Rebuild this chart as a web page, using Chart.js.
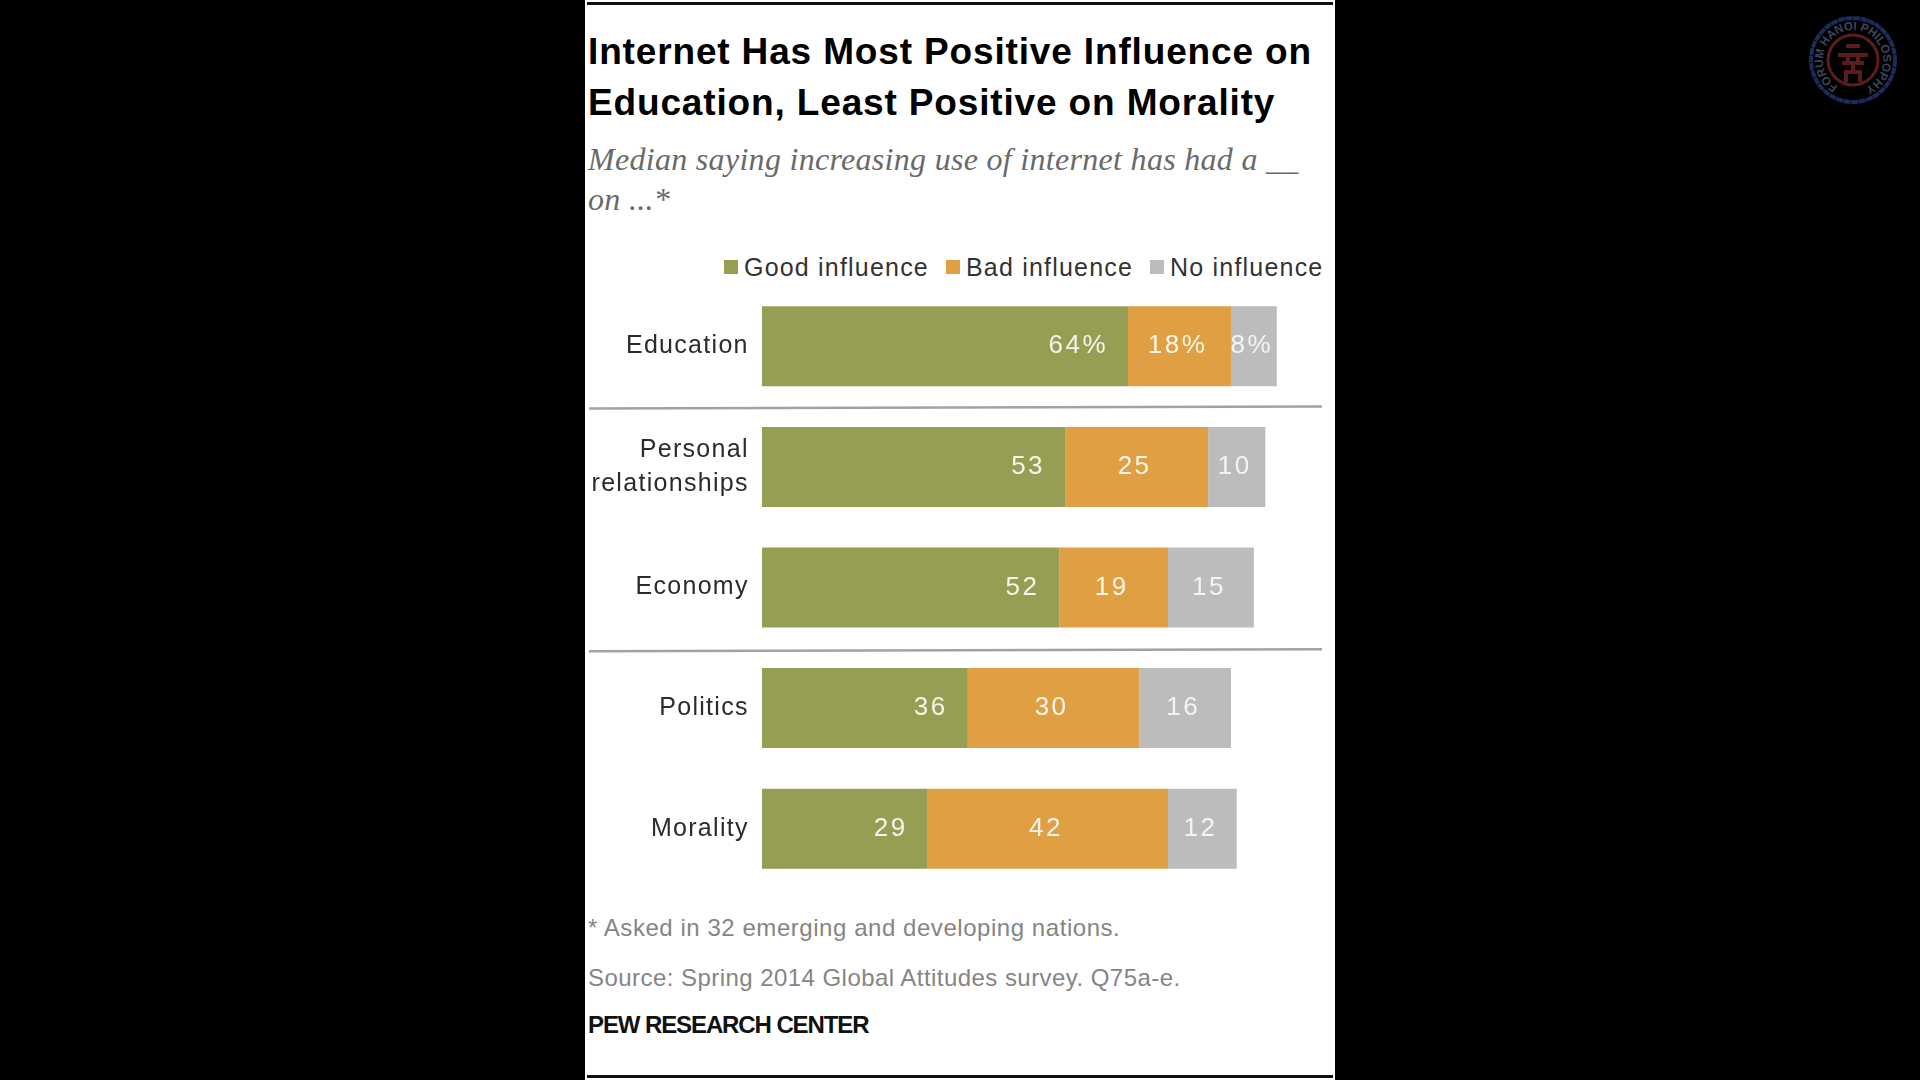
<!DOCTYPE html>
<html>
<head>
<meta charset="utf-8">
<title>Internet influence</title>
<script src="https://cdn.jsdelivr.net/npm/chart.js@4"></script>
<style>
    html, body { margin: 0; height: 100%; background: #000; overflow: hidden; }
    .panel { position: absolute; left: 585px; top: 0; width: 750px; height: 1080px; background: #fff; }
    .rule { position: absolute; left: 2px; width: 746px; height: 3px; background: #111; }
    .txt { position: absolute; white-space: nowrap; font-family: "Liberation Sans", sans-serif; }
    .title { left: 3px; top: 26px; font-size: 37px; line-height: 51px; font-weight: 700; color: #000; letter-spacing: 0.85px; }
    .subtitle { left: 3px; top: 139px; font-family: "Liberation Serif", serif; font-style: italic; font-size: 32px; line-height: 40px; color: #6a6a6a; letter-spacing: 0.3px; }
    .note { left: 3px; font-size: 24px; color: #858585; letter-spacing: 0.45px; }
    .org { left: 3px; top: 1011px; font-size: 24px; font-weight: 700; color: #111; letter-spacing: -1.1px; }
    #legend { position: absolute; left: 139px; top: 250px; height: 34px; display: flex; align-items: center; font-size: 25px; letter-spacing: 1.2px; color: #333; }
    #legend span.box { display: inline-block; width: 14px; height: 14px; margin-right: 6px; }
    #legend span.item { margin-right: 17px; }
    .chart-wrap { position: absolute; left: 1px; top: 286px; width: 748px; height: 603px; }
    .logo { position: absolute; left: 1803px; top: 10px; }
</style>
</head>
<body>
<div class="panel">
    <div class="rule" style="top: 2px;"></div>
    <div class="txt title">Internet Has Most Positive Influence on<br>Education, Least Positive on Morality</div>
    <div class="txt subtitle">Median saying increasing use of internet has had a __<br>on ...*</div>
    <div id="legend" class="txt"></div>
    <div class="chart-wrap"><canvas id="influenceChart"></canvas></div>
    <div class="txt note" style="top: 914px; letter-spacing: 0.55px;">* Asked in 32 emerging and developing nations.</div>
    <div class="txt note" style="top: 964px;">Source: Spring 2014 Global Attitudes survey. Q75a-e.</div>
    <div class="txt org">PEW RESEARCH CENTER</div>
    <div class="rule" style="top: 1075px;"></div>
</div>

<svg class="logo" width="100" height="100" viewBox="0 0 100 100">
    <defs><path id="ringText" d="M 50 50 m -30 0 a 30 30 0 1 1 60 0 a 30 30 0 1 1 -60 0"></path></defs>
    <circle cx="50" cy="50" r="42" fill="none" stroke="#1c2b57" stroke-width="4" stroke-dasharray="7 0.6"></circle>
    <circle cx="50" cy="50" r="25" fill="none" stroke="#5c1c1c" stroke-width="3"></circle>
    <text transform="rotate(-60 50 50)" font-family="Liberation Sans" font-weight="700" font-size="12" fill="#3c445a" textLength="160" lengthAdjust="spacingAndGlyphs">
        <textPath href="#ringText">FORUM HANOI PHILOSOPHY</textPath>
    </text>
    <path d="M43 36 H57 M35 45 H65 M39 53 H61 M45 45 V53 M55 45 V53 M43 72 V62 H57 V72 M50 53 V62" fill="none" stroke="#5c1c1c" stroke-width="4"></path>
</svg>

<script>
const categories = ['Education', ['Personal', 'relationships'], 'Economy', 'Politics', 'Morality'];
const goodValues = [64, 53, 52, 36, 29];
const badValues = [18, 25, 19, 30, 42];
const noneValues = [8, 10, 15, 16, 12];
const seriesNames = ['Good influence', 'Bad influence', 'No influence'];
const seriesColors = ['#969e54', '#df9f42', '#bcbcbc'];
const labelColors = ['#f4f5e8', '#fdf6ea', '#f4f4f4'];
const dividerAfter = [0, 2];

const fontFamily = '"Liberation Sans", sans-serif';

// canvas has no letter-spacing option, and a resize wipes the context state
const spacingPlugin = {
    id: 'spacing',
    beforeLayout(chart) { chart.ctx.letterSpacing = '1.3px'; },
    beforeDraw(chart) { chart.ctx.letterSpacing = '1.3px'; }
};

const valueLabelPlugin = {
    id: 'valueLabels',
    afterDatasetsDraw(chart) {
        const ctx = chart.ctx;
        ctx.save();
        ctx.font = '26px ' + fontFamily;
        ctx.letterSpacing = '2.5px';
        ctx.textBaseline = 'middle';
        chart.data.datasets.forEach((ds, d) => {
            chart.getDatasetMeta(d).data.forEach((bar, i) => {
                const text = ds.data[i] + (i === 0 ? '%' : '');
                ctx.fillStyle = labelColors[d];
                if (d === 0) {
                    ctx.textAlign = 'right';
                    ctx.fillText(text, bar.x - 20, bar.y);
                } else {
                    ctx.textAlign = 'center';
                    ctx.fillText(text, (bar.x + bar.base) / 2 - 2, bar.y);
                }
            });
        });
        ctx.restore();
    }
};

const dividerPlugin = {
    id: 'dividers',
    afterDraw(chart) {
        const ctx = chart.ctx;
        const yScale = chart.scales.y;
        ctx.save();
        ctx.strokeStyle = '#a2a2a2';
        ctx.lineWidth = 2.5;
        dividerAfter.forEach((i, n) => {
            const y = yScale.getPixelForValue(i + 0.5) + (n === 0 ? 1 : 2.5);
            ctx.beginPath();
            ctx.moveTo(3, y + 1);
            ctx.lineTo(736, y - 1);
            ctx.stroke();
        });
        ctx.restore();
    }
};

// legend is plain html so the box/text gap can match
const legendEl = document.getElementById('legend');
seriesNames.forEach((name, i) => {
    legendEl.innerHTML += `<span class="box" style="background:${seriesColors[i]}"></span><span class="item">${name}</span>`;
});

new Chart(document.getElementById('influenceChart'), {
    type: 'bar',
    data: {
        labels: categories,
        datasets: [
            { label: seriesNames[0], data: goodValues, backgroundColor: seriesColors[0] },
            { label: seriesNames[1], data: badValues, backgroundColor: seriesColors[1] },
            { label: seriesNames[2], data: noneValues, backgroundColor: seriesColors[2] }
        ]
    },
    options: {
        indexAxis: 'y',
        responsive: true, maintainAspectRatio: false, animation: false,
        layout: { padding: 0 },
        datasets: { bar: { barPercentage: 0.663, categoryPercentage: 1, borderWidth: 0 } },
        plugins: { legend: { display: false }, tooltip: { enabled: false } },
        scales: {
            x: { stacked: true, display: false, min: 0, max: 100 },
            y: {
                stacked: true,
                grid: { display: false, drawTicks: false },
                border: { display: false },
                ticks: { color: '#2b2b2b', padding: 13, autoSkip: false, font: { family: fontFamily, size: 25, lineHeight: 1.36 } },
                // fixed gutter, and no half-label padding above and below the bars
                afterFit(scale) {
                    scale.width = 175.8;
                    scale.paddingTop = 0;
                    scale.paddingBottom = 0;
                }
            }
        }
    },
    plugins: [spacingPlugin, valueLabelPlugin, dividerPlugin]
});
</script>
</body>
</html>
